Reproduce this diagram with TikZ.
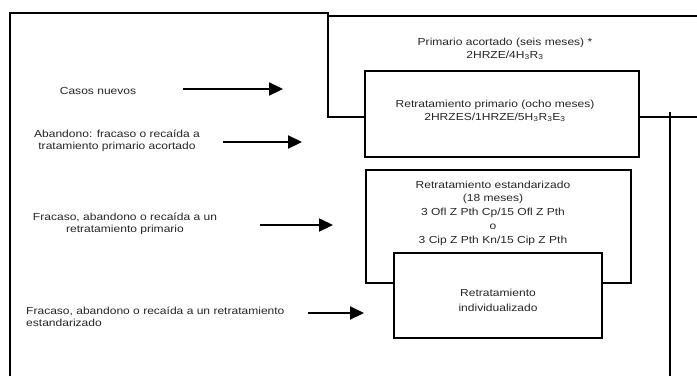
\documentclass[tikz,border=0pt]{standalone}
\usepackage{fontspec}
\setmainfont{Liberation Sans}[FakeStretch=1.18]
\usetikzlibrary{arrows.meta}
\begin{document}
\begin{tikzpicture}[x=1pt,y=-1pt,
  frame/.style={line width=2.1pt,line join=miter},
  regimen/.style={draw,line width=2.1pt,fill=white,rectangle,inner sep=0pt},
  txt/.style={align=center,inner sep=0pt,text=black!85,font=\fontsize{10.2}{12.5}\selectfont},
  feed/.style={line width=2.2pt,-{Triangle[length=14pt,width=13pt]}}
]
% canvas
\path[fill=white,use as bounding box] (0,0) rectangle (697,376);

% regimen boxes
\node[regimen,minimum width=274pt,minimum height=86pt] (prim) at (502,114) {};
\node[regimen,minimum width=265pt,minimum height=113pt] (std) at (498.5,226.5) {};
\node[regimen,minimum width=208pt,minimum height=85pt] (indiv) at (498,295.5) {};

% enclosing frames
\coordinate (lbl) at (10,376);
\coordinate (ltl) at (10,13);
\coordinate (ltr) at (328,13);
\coordinate (lbr) at (328,117);
\draw[frame] (lbl) -- (ltl) -- (ltr) -- (lbr) -- (prim.west |- lbr);
\coordinate (ttl) at (328,16);
\coordinate (ttr) at (697,16);
\draw[frame] (ttl) -- (ttr);
\coordinate (rhe) at (697,117);
\draw[frame] (prim.east |- rhe) -- (rhe);
\coordinate (rvt) at (670,112);
\coordinate (rvb) at (670,376);
\draw[frame] (rvt) -- (rvb);

% box texts
\node[txt] (primtxt) at (505,49) {Primario acortado (seis meses) *\\2HRZE/4H\textsubscript{3}R\textsubscript{3}};
\node[txt] (primlbl) at (495,111) {Retratamiento primario (ocho meses)\\2HRZES/1HRZE/5H\textsubscript{3}R\textsubscript{3}E\textsubscript{3}};
\node[txt,font=\fontsize{10.2}{13.8}\selectfont] (stdlbl) at (493,213) {Retratamiento estandarizado\\(18 meses)\\3 Ofl Z Pth Cp/15 Ofl Z Pth\\o\\3 Cip Z Pth Kn/15 Cip Z Pth};
\node[txt,font=\fontsize{10.2}{15}\selectfont] (indivlbl) at (498,300) {Retratamiento\\individualizado};

% patient categories
\node[txt] (c1) at (98,91) {Casos nuevos};
\node[txt] (c2) at (117,141) {Abandono: fracaso o recaída a\\tratamiento primario acortado};
\node[txt] (c3) at (125,224) {Fracaso, abandono o recaída a un\\retratamiento primario};
\node[txt,align=left,anchor=west] (c4) at (26,317) {Fracaso, abandono o recaída a un retratamiento\\estandarizado};

% arrows
\coordinate (a1s) at (183,89);  \coordinate (a1e) at (283,89);
\coordinate (a2s) at (223,142); \coordinate (a2e) at (302,142);
\coordinate (a3s) at (260,225); \coordinate (a3e) at (333,225);
\coordinate (a4s) at (308,313); \coordinate (a4e) at (364,313);
\draw[feed] (a1s) -- (a1e);
\draw[feed] (a2s) -- (a2e);
\draw[feed] (a3s) -- (a3e);
\draw[feed] (a4s) -- (a4e);
\end{tikzpicture}
\end{document}
